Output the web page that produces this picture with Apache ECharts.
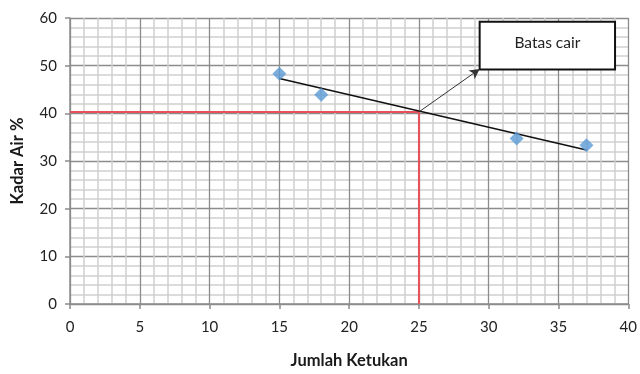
<!DOCTYPE html>
<html><head><meta charset="utf-8">
<script src="https://cdn.jsdelivr.net/npm/echarts@6/dist/echarts.min.js"></script>
<style>html,body{margin:0;padding:0;background:#fff}#c{width:640px;height:374px}</style>
</head><body><div id="c"></div>
<script>
var pointsX = [15, 18, 32, 37];
var pointsY = [48.3, 43.9, 34.7, 33.3];
var trendX = [15, 37];
var trendY = [47.3, 32.3];
var refX = [0, 25, 25];
var refY = [40.3, 40.3, 0];
var arrowFrom = [25, 40.3];
var arrowTo = [29.35, 49.3];
var boxFrom = [29.35, 59.2];
var boxTo = [39.05, 49.2];
var boxText = 'Batas cair';
var xName = 'Jumlah Ketukan';
var yName = 'Kadar Air %';

function zip(a, b) { return a.map(function (v, i) { return [v, b[i]]; }); }
var font = 'Lato, "Open Sans", sans-serif';
var chart = echarts.init(document.getElementById('c'));
chart.setOption({
  animation: false,
  grid: { left: 70, right: 10, top: 18, bottom: 68 },
  xAxis: {
    type: 'value', min: 0, max: 40, interval: 5,
    name: xName, nameLocation: 'middle', nameGap: 48,
    nameTextStyle: { fontFamily: font, fontSize: 16.5, fontWeight: 'bold', color: '#1a1a1a' },
    axisLine: { show: true, lineStyle: { color: '#8c8c8c', width: 1.5 } },
    axisTick: { show: true, length: 5, lineStyle: { color: '#8c8c8c', width: 1.5 } },
    axisLabel: { fontFamily: font, fontSize: 15, color: '#222', margin: 16 },
    splitLine: { show: true, lineStyle: { color: '#8c8c8c', width: 1.3 } },
    minorTick: { show: false, splitNumber: 5 },
    minorSplitLine: { show: true, lineStyle: { color: '#cfcfcf', width: 1.5 } }
  },
  yAxis: {
    type: 'value', min: 0, max: 60, interval: 10,
    name: yName, nameLocation: 'middle', nameGap: 44, nameRotate: 90,
    nameTextStyle: { fontFamily: font, fontSize: 16.5, fontWeight: 'bold', color: '#1a1a1a' },
    axisLine: { show: true, lineStyle: { color: '#8c8c8c', width: 1.5 } },
    axisTick: { show: true, length: 5, lineStyle: { color: '#8c8c8c', width: 1.5 } },
    axisLabel: { fontFamily: font, fontSize: 15, color: '#222', margin: 13 },
    splitLine: { show: true, lineStyle: { color: '#8c8c8c', width: 1.3 } },
    minorTick: { show: false, splitNumber: 5 },
    minorSplitLine: { show: true, lineStyle: { color: '#cfcfcf', width: 1.5 } }
  },
  series: [
    {
      type: 'line', data: zip(refX, refY), symbol: 'none',
      lineStyle: { color: '#e8505a', width: 2 }, z: 3
    },
    {
      type: 'line', data: zip(trendX, trendY), symbol: 'none',
      lineStyle: { color: '#111', width: 1.5 }, z: 4,
      markLine: {
        silent: true, symbol: ['none', 'arrow'], symbolSize: [8, 10],
        label: { show: false },
        lineStyle: { color: '#333', width: 1, type: 'solid' },
        data: [[{ coord: arrowFrom }, { coord: arrowTo }]]
      },
      markArea: {
        silent: true,
        itemStyle: { color: '#fff', borderColor: '#111', borderWidth: 2 },
        label: { show: true, position: 'inside', formatter: boxText, fontFamily: font, fontSize: 15.5, color: '#222', offset: [0, -3] },
        data: [[{ coord: boxFrom }, { coord: boxTo }]]
      }
    },
    {
      type: 'scatter', data: zip(pointsX, pointsY), symbol: 'diamond', symbolSize: 14,
      itemStyle: { color: '#5b9bd5' }, z: 5
    }
  ]
});
</script></body></html>
